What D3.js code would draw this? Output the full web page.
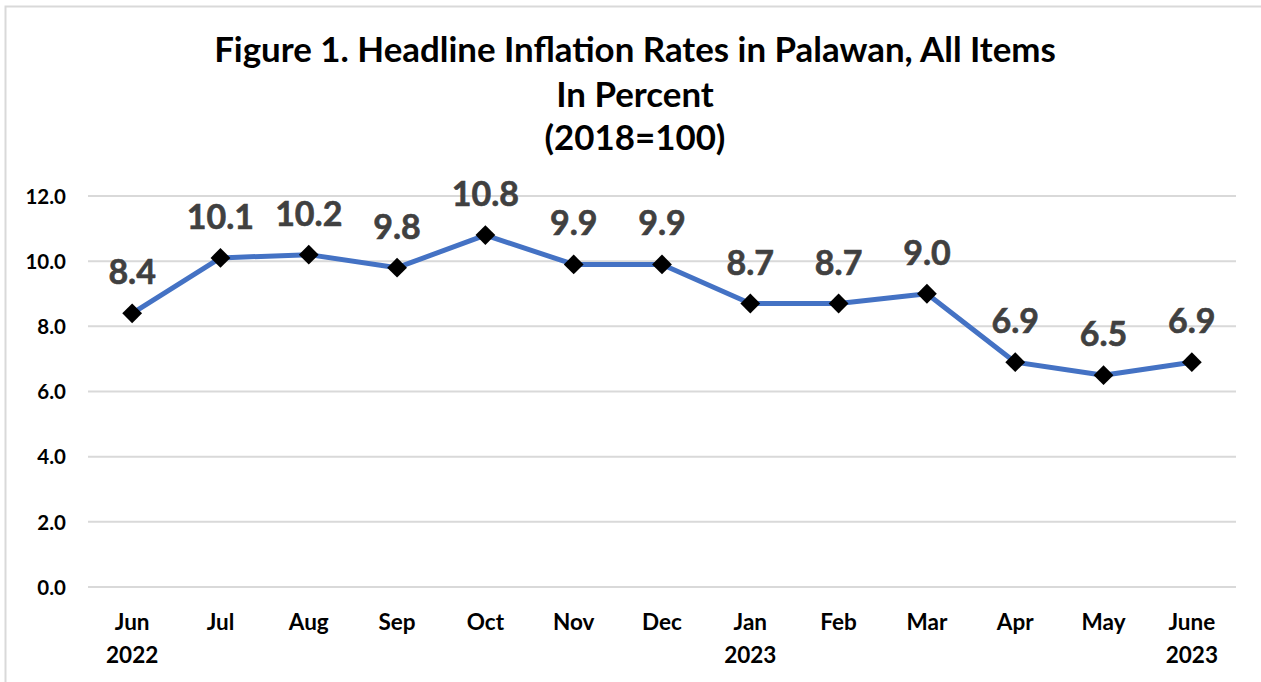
<!DOCTYPE html>
<html><head><meta charset="utf-8">
<script src="https://cdn.jsdelivr.net/npm/d3@7/dist/d3.min.js"></script>
<style>
html,body{margin:0;padding:0;background:#fff;}
svg{display:block;font-family:Lato,"Open Sans",sans-serif;}
</style></head>
<body>
<svg id="chart" width="1261" height="682"></svg>
<script>
const categories = ["Jun\n2022","Jul","Aug","Sep","Oct","Nov","Dec","Jan\n2023","Feb","Mar","Apr","May","June\n2023"];
const values = [8.4,10.1,10.2,9.8,10.8,9.9,9.9,8.7,8.7,9.0,6.9,6.5,6.9];
const yTicks = [0,2,4,6,8,10,12];
const titleLines = ["Figure 1. Headline Inflation Rates in Palawan, All Items","In Percent","(2018=100)"];

(function(){
const svg = d3.select("#chart");
svg.append("rect").attr("x",5.5).attr("y",6.5).attr("width",1270).attr("height",700)
  .attr("fill","none").attr("stroke","#d9d9d9").attr("stroke-width",2);

const pLeft=88, pRight=1236, pTop=196, pBottom=587;
const x = d3.scaleBand().domain(categories).range([pLeft,pRight]);
const y = d3.scaleLinear().domain([0,12]).range([pBottom,pTop]);

const tg = svg.append("g");
const tBase=[62,107,150];
const fs=30;
titleLines.forEach((t,i)=>{
  tg.append("text").attr("x",635).attr("y",tBase[i]).attr("text-anchor","middle")
    .attr("font-weight","bold").attr("font-size",fs).attr("fill","#000").text(t);
});
const w0 = tg.select("text").node().getComputedTextLength();
tg.selectAll("text").attr("font-size",fs*842/w0);

svg.append("g").selectAll("line").data(yTicks).join("line")
  .attr("x1",pLeft).attr("x2",pRight).attr("y1",d=>y(d)).attr("y2",d=>y(d))
  .attr("stroke","#d9d9d9").attr("stroke-width",2);

const yAxis = d3.axisLeft(y).tickValues(yTicks).tickFormat(d3.format(".1f")).tickSize(0).tickPadding(0);
const ya = svg.append("g").attr("transform","translate(66,0)").call(yAxis);
ya.select(".domain").remove();
ya.selectAll("text").attr("font-size",20.5).attr("font-weight","bold").attr("fill","#000")
  .attr("font-family","Lato,'Open Sans',sans-serif").attr("dy","0.35em");

const xAxis = d3.axisBottom(x).tickSize(0).tickPadding(0).tickFormat("");
const xa = svg.append("g").attr("transform",`translate(0,${pBottom})`).call(xAxis);
xa.select(".domain").remove();
xa.selectAll(".tick").each(function(d){
  const lines=d.split("\n");
  const t=d3.select(this).append("text").attr("fill","#000").attr("font-size",22.5)
    .attr("font-weight","bold").attr("text-anchor","middle")
    .attr("font-family","Lato,'Open Sans',sans-serif");
  lines.forEach((l,i)=>t.append("tspan").attr("x",0).attr("y",43+i*33).text(l));
});

const cx = d=>x(d)+x.bandwidth()/2;
const line = d3.line().x((d,i)=>cx(categories[i])).y(d=>y(d));
svg.append("path").datum(values).attr("d",line).attr("fill","none")
  .attr("stroke","#4472C4").attr("stroke-width",5).attr("stroke-linejoin","round");

svg.append("g").selectAll("path").data(values).join("path")
  .attr("d",d3.symbol().type(d3.symbolDiamond2).size(250))
  .attr("transform",(d,i)=>`translate(${cx(categories[i])},${y(d)})`)
  .attr("fill","#000");

svg.append("g").selectAll("text").data(values).join("text")
  .attr("x",(d,i)=>cx(categories[i])).attr("y",d=>y(d)-29)
  .attr("text-anchor","middle").attr("font-size",34).attr("font-weight","bold")
  .attr("fill","#404040").attr("stroke","#404040").attr("stroke-width",0.6)
  .text(d=>d3.format(".1f")(d));
})();
</script>
</body></html>
